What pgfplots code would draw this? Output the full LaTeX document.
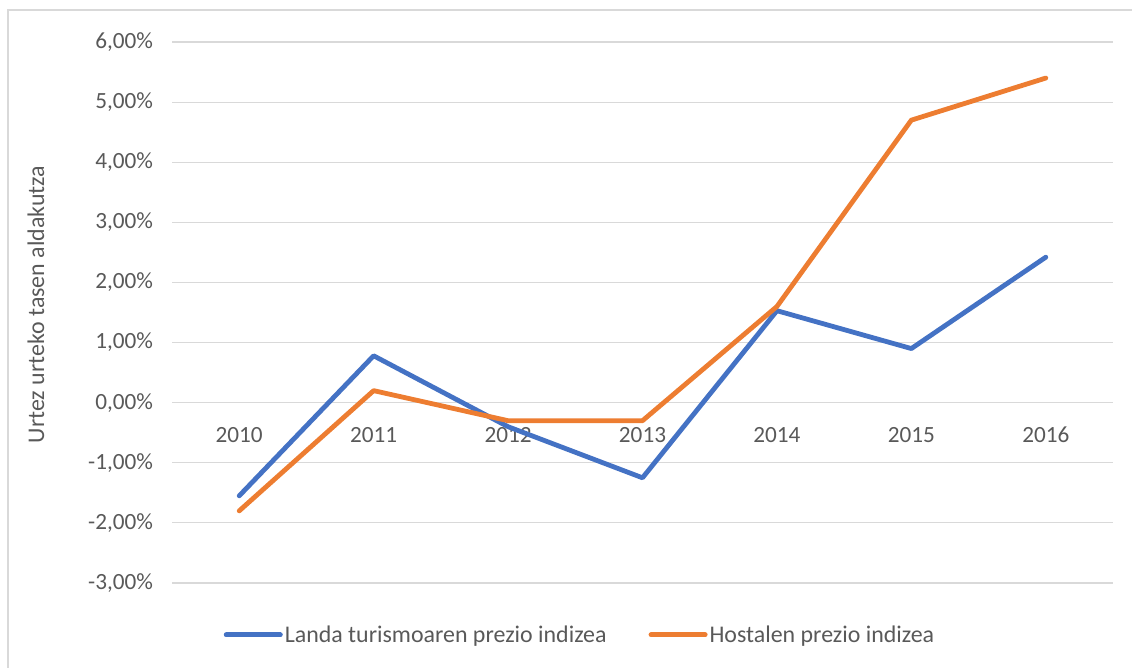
\documentclass[border=0pt]{standalone}
\usepackage{pgfplots}
\pgfplotsset{compat=1.18}
\usepackage{fontspec}
\setmainfont{Carlito}
\definecolor{lblue}{HTML}{4472C4}
\definecolor{lorange}{HTML}{ED7D31}
\definecolor{txtgray}{HTML}{595959}
\definecolor{gridgray}{HTML}{D9D9D9}

\begin{document}
\begin{tikzpicture}
\useasboundingbox (0bp,0bp) rectangle (1132bp,668bp);
% chart area frame
\draw[gridgray, line width=1.2bp] (8bp,0bp) -- (8bp,658bp) -- (1132bp,658bp);
\begin{axis}[
  at={(172bp,85bp)}, anchor=south west,
  scale only axis, width=941bp, height=541bp,
  xmin=-0.5, xmax=6.5, ymin=-3, ymax=6,
  axis line style={draw=none},
  xtick={0,...,6},
  xticklabels={2010,2011,2012,2013,2014,2015,2016},
  ytick={-3,-2,...,6},
  yticklabels={{-3,00\%},{-2,00\%},{-1,00\%},{0,00\%},{1,00\%},{2,00\%},{3,00\%},{4,00\%},{5,00\%},{6,00\%}},
  major tick length=0pt,
  ymajorgrids,
  grid style={gridgray, line width=1.2bp},
  tick label style={font=\fontsize{23.3}{27}\selectfont, text=txtgray},
  xticklabel style={anchor=center, yshift=148bp},
  yticklabel style={anchor=east, xshift=-15.5bp},
  ylabel={Urtez urteko tasen aldakutza},
  every axis y label/.style={at={(axis description cs:-0.1445,0.515)}, rotate=90, anchor=center, font=\fontsize{24}{28}\selectfont, text=txtgray},
  legend columns=2,
  legend style={at={(axis description cs:0.4336,-0.0961)}, anchor=center, draw=none, fill=none,
    font=\fontsize{24}{28}\selectfont, text=txtgray,
    /tikz/every even column/.append style={column sep=40bp}},
  legend image code/.code={\draw[#1, line width=5bp, line cap=round] (0bp,0bp) -- (54bp,0bp);},
]
\addplot[lblue, line width=4.8bp, line join=round, line cap=round] coordinates {
  (0,-1.55) (1,0.78) (2,-0.40) (3,-1.25) (4,1.53) (5,0.90) (6,2.42)
};
\addlegendentry{Landa turismoaren prezio indizea}
\addplot[lorange, line width=4.8bp, line join=round, line cap=round] coordinates {
  (0,-1.80) (1,0.20) (2,-0.30) (3,-0.30) (4,1.60) (5,4.70) (6,5.40)
};
\addlegendentry{Hostalen prezio indizea}
\end{axis}
\end{tikzpicture}
\end{document}
